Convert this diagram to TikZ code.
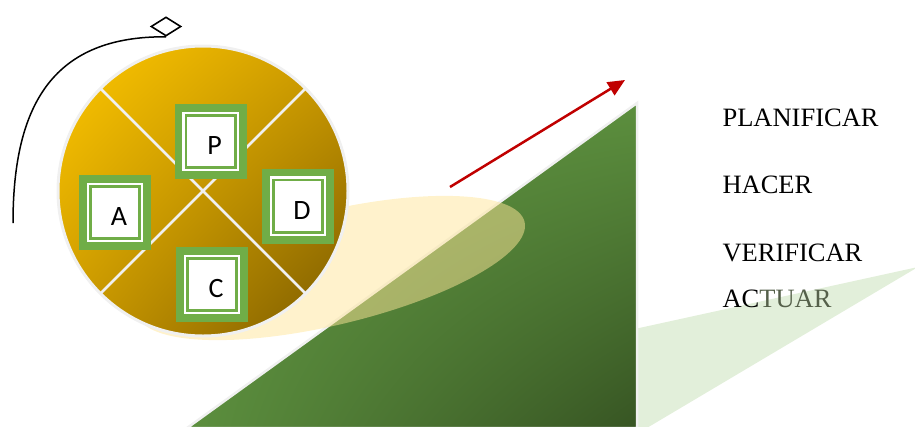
\documentclass[tikz,border=0pt]{standalone}
\usepackage{fontspec}
\setmainfont{Liberation Serif}
\newfontfamily\letterfont{Carlito}
\usepackage{tikz}
\usetikzlibrary{arrows.meta, shapes.geometric, shadings}
\definecolor{pdcagold}{HTML}{FFC800}
\definecolor{pdcamid}{HTML}{CC9A00}
\definecolor{pdcabrown}{HTML}{7A5A00}
\definecolor{pdcagreen}{HTML}{70AD47}
\definecolor{slopelight}{HTML}{5F9641}
\definecolor{slopemid}{HTML}{5C8F3E}
\definecolor{slopedark}{HTML}{375523}
\definecolor{wedgegreen}{HTML}{E2EFDA}
\definecolor{haloyellow}{HTML}{FFE699}
\definecolor{arrowred}{HTML}{C00000}
\definecolor{ringgrey}{HTML}{F0F0F0}
\definecolor{fadetext}{HTML}{55604A}
\newcommand{\fsLetter}{\fontsize{28}{32}\selectfont}
\newcommand{\fsLabel}{\fontsize{26.5}{30}\selectfont}

\begin{document}
\begin{tikzpicture}[x=1pt, y=-1pt,
  boxpdca/.style={rectangle, fill=pdcagreen, minimum width=72pt, minimum height=75pt,
    inner sep=0pt, font=\letterfont\fsLetter, text height=26.7pt, text depth=0pt,
    execute at begin node={\hspace*{8pt}},
    path picture={
      \fill[white] ([xshift=7.7pt,yshift=-7.7pt]path picture bounding box.north west)
        rectangle ([xshift=-7.7pt,yshift=7.7pt]path picture bounding box.south east);
      \draw[pdcagreen, line width=2.7pt] ([xshift=11.35pt,yshift=-11.35pt]path picture bounding box.north west)
        rectangle ([xshift=-11.35pt,yshift=11.35pt]path picture bounding box.south east);
    }},
  steplabel/.style={anchor=base west, font=\fsLabel}]
  \useasboundingbox (0,0) rectangle (915,426);
  \clip (0,0) rectangle (915,426);

  % slope and wedge
  \fill[wedgegreen] (630,330) -- (918,267) -- (630,438) -- cycle;
  \shadedraw[upper left=slopelight, upper right=slopemid, lower left=slopemid, lower right=slopedark,
    draw=ringgrey, line width=2.5pt] (187,428) -- (637,103) -- (637,428) -- cycle;
  \fill[haloyellow, opacity=0.5, rotate around={13.4:(331,268)}] (331,268) ellipse [x radius=199, y radius=57];

  % wheel
  \shadedraw[upper left=pdcagold, upper right=pdcamid, lower left=pdcamid, lower right=pdcabrown,
    draw=ringgrey, line width=3pt] (203,191) circle [radius=145];
  \draw[ringgrey, line width=2.5pt] (100.5,88.5) -- (305.5,293.5);
  \draw[ringgrey, line width=2.5pt] (305.5,88.5) -- (100.5,293.5);

  \node[boxpdca] (boxP) at (210.5,141.5) {P};
  \node[boxpdca] (boxA) at (115,212.5) {A};
  \node[boxpdca] (boxD) at (298,206) {D};
  \node[boxpdca] (boxC) at (212,284.5) {C};

  % turning arrow
  \node[diamond, draw, fill=white, minimum width=30pt, minimum height=19pt, inner sep=0pt,
    line width=1.6pt] (turntip) at (166,26.5) {};
  \coordinate (turnstart) at (13,223);
  \draw[line width=1.5pt] (turnstart) .. controls (13,102) and (55,36) .. (turntip.south);

  \coordinate (risestart) at (450,187);
  \coordinate (riseend) at (625,80);
  \draw[arrowred, line width=2.5pt, -{Triangle[length=17pt, width=15pt]}] (risestart) -- (riseend);

  \node[steplabel] (lblplan) at (719,126) {PLANIFICAR};
  \node[steplabel] (lblhacer) at (719,193) {HACER};
  \node[steplabel] (lblverif) at (719,261) {VERIFICAR};
  \node[steplabel] (lblactuar) at (719,307) {AC\textcolor{fadetext}{TUAR}};
\end{tikzpicture}
\end{document}
